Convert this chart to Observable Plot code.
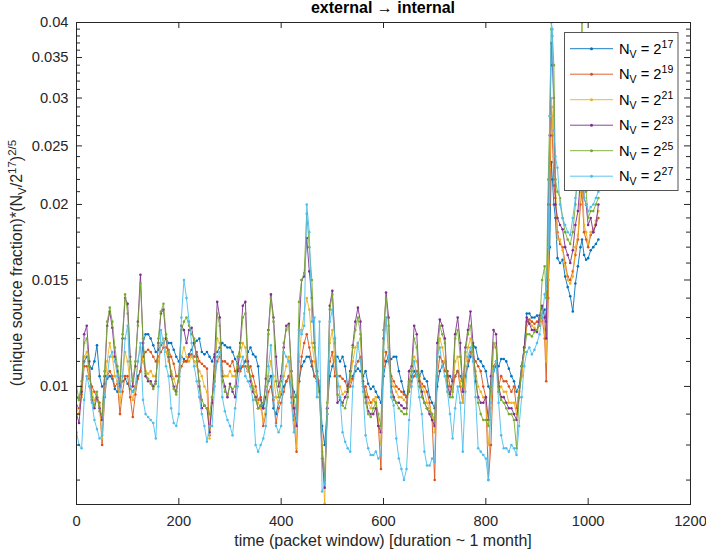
<!DOCTYPE html>
<html><head><meta charset="utf-8">
<script src="https://cdn.jsdelivr.net/npm/d3@7"></script>
<script src="https://cdn.jsdelivr.net/npm/@observablehq/plot@0.6"></script>
<style>html,body{margin:0;padding:0;background:#fff}svg{display:block}</style>
</head><body><div id="chart"></div>
<script>
// packet window index (x)
const time = [
0,5,10,15,20,25,30,35,40,45,50,55,60,65,70,75,80,85,90,95,
100,105,110,115,120,125,130,135,140,145,150,155,160,165,170,175,180,185,190,195,
200,205,210,215,220,225,230,235,240,245,250,255,260,265,270,275,280,285,290,295,
300,305,310,315,320,325,330,335,340,345,350,355,360,365,370,375,380,385,390,395,
400,405,410,415,420,425,430,435,440,445,450,455,460,465,470,475,480,485,490,495,
500,505,510,515,520,525,530,535,540,545,550,555,560,565,570,575,580,585,590,595,
600,605,610,615,620,625,630,635,640,645,650,655,660,665,670,675,680,685,690,695,
700,705,710,715,720,725,730,735,740,745,750,755,760,765,770,775,780,785,790,795,
800,805,810,815,820,825,830,835,840,845,850,855,860,865,870,875,880,885,890,895,
900,905,910,915,
918,922,925,928,930,933,936,940,945,950,955,960,965,970,975,980,985,988,992,996,1000,1005,1010,1015,1020];

// N_V = 2^17
const nv17 = [
0.0096,0.0095,0.0100,0.0110,0.0112,0.0108,0.0107,0.0110,0.0117,0.0104,0.0100,0.0101,0.0103,0.0104,0.0103,0.0099,0.0098,0.0100,0.0102,0.0103,
0.0101,0.0099,0.0098,0.0100,0.0104,0.0106,0.0118,0.0122,0.0122,0.0120,0.0117,0.0114,0.0115,0.0117,0.0118,0.0120,0.0118,0.0118,0.0115,0.0112,
0.0110,0.0112,0.0111,0.0110,0.0113,0.0115,0.0118,0.0119,0.0120,0.0114,0.0113,0.0114,0.0112,0.0110,0.0113,0.0114,0.0116,0.0118,0.0117,0.0116,
0.0116,0.0114,0.0111,0.0109,0.0107,0.0108,0.0110,0.0114,0.0116,0.0113,0.0112,0.0108,0.0095,0.0092,0.0096,0.0102,0.0104,0.0092,0.0090,0.0094,
0.0097,0.0100,0.0102,0.0104,0.0100,0.0098,0.0096,0.0102,0.0108,0.0110,0.0112,0.0112,0.0108,0.0104,0.0102,0.0100,0.0086,0.0080,0.0092,0.0104,
0.0108,0.0112,0.0112,0.0110,0.0112,0.0108,0.0100,0.0102,0.0104,0.0106,0.0107,0.0106,0.0104,0.0106,0.0101,0.0099,0.0100,0.0098,0.0096,0.0094,
0.0104,0.0110,0.0112,0.0111,0.0112,0.0112,0.0106,0.0102,0.0098,0.0096,0.0100,0.0104,0.0106,0.0104,0.0104,0.0106,0.0103,0.0102,0.0096,0.0094,
0.0092,0.0100,0.0106,0.0108,0.0110,0.0104,0.0104,0.0102,0.0104,0.0106,0.0104,0.0102,0.0104,0.0108,0.0112,0.0117,0.0116,0.0111,0.0110,0.0108,
0.0106,0.0100,0.0098,0.0106,0.0108,0.0108,0.0111,0.0111,0.0110,0.0107,0.0104,0.0102,0.0098,0.0100,0.0108,0.0116,0.0132,0.0132,0.0130,0.0130,
0.0131,0.0129,0.0132,0.0134,
0.0128,0.0150,0.0170,0.0235,0.0220,0.0200,0.0190,0.0163,0.0160,0.0162,0.0152,0.0146,0.0141,0.0133,0.0148,0.0158,0.0170,0.0175,0.0165,0.0162,0.0163,0.0168,0.0170,0.0172,0.0175];

// N_V = 2^19
const nv19 = [
0.0093,0.0092,0.0097,0.0108,0.0108,0.0103,0.0100,0.0098,0.0096,0.0094,0.0080,0.0096,0.0104,0.0106,0.0104,0.0100,0.0101,0.0090,0.0098,0.0104,
0.0104,0.0096,0.0089,0.0097,0.0103,0.0106,0.0112,0.0114,0.0115,0.0114,0.0112,0.0110,0.0112,0.0114,0.0116,0.0116,0.0115,0.0112,0.0109,0.0104,
0.0104,0.0108,0.0110,0.0110,0.0112,0.0113,0.0112,0.0114,0.0110,0.0109,0.0108,0.0107,0.0083,0.0095,0.0104,0.0110,0.0112,0.0110,0.0110,0.0109,
0.0108,0.0110,0.0106,0.0107,0.0106,0.0108,0.0108,0.0106,0.0108,0.0104,0.0100,0.0095,0.0096,0.0086,0.0090,0.0098,0.0100,0.0095,0.0087,0.0092,
0.0094,0.0098,0.0102,0.0104,0.0096,0.0088,0.0078,0.0102,0.0112,0.0118,0.0122,0.0116,0.0110,0.0104,0.0104,0.0102,0.0080,0.0070,0.0090,0.0110,
0.0114,0.0104,0.0104,0.0104,0.0103,0.0102,0.0099,0.0100,0.0103,0.0108,0.0110,0.0112,0.0100,0.0100,0.0096,0.0094,0.0095,0.0094,0.0086,0.0073,
0.0108,0.0114,0.0110,0.0104,0.0102,0.0100,0.0099,0.0098,0.0097,0.0096,0.0098,0.0102,0.0104,0.0106,0.0102,0.0101,0.0100,0.0098,0.0094,0.0088,
0.0070,0.0104,0.0112,0.0110,0.0106,0.0106,0.0100,0.0098,0.0104,0.0106,0.0100,0.0094,0.0104,0.0110,0.0114,0.0112,0.0110,0.0108,0.0106,0.0100,
0.0096,0.0070,0.0080,0.0108,0.0110,0.0100,0.0104,0.0102,0.0102,0.0100,0.0098,0.0100,0.0092,0.0098,0.0104,0.0114,0.0128,0.0129,0.0128,0.0127,
0.0128,0.0128,0.0130,0.0120,
0.0102,0.0140,0.0200,0.0290,0.0260,0.0215,0.0205,0.0180,0.0172,0.0170,0.0160,0.0152,0.0150,0.0155,0.0165,0.0175,0.0200,0.0210,0.0180,0.0175,0.0170,0.0178,0.0180,0.0185,0.0190];

// N_V = 2^21
const nv21 = [
0.0092,0.0090,0.0096,0.0112,0.0114,0.0104,0.0098,0.0095,0.0096,0.0093,0.0082,0.0099,0.0110,0.0118,0.0112,0.0104,0.0102,0.0094,0.0104,0.0114,
0.0110,0.0100,0.0095,0.0100,0.0110,0.0116,0.0110,0.0106,0.0105,0.0106,0.0104,0.0104,0.0110,0.0118,0.0120,0.0114,0.0110,0.0106,0.0103,0.0100,
0.0102,0.0112,0.0116,0.0112,0.0110,0.0112,0.0110,0.0108,0.0106,0.0104,0.0100,0.0098,0.0082,0.0096,0.0108,0.0120,0.0118,0.0106,0.0104,0.0104,
0.0106,0.0104,0.0104,0.0108,0.0112,0.0118,0.0116,0.0106,0.0104,0.0100,0.0098,0.0094,0.0092,0.0088,0.0092,0.0104,0.0110,0.0104,0.0096,0.0094,
0.0098,0.0104,0.0108,0.0112,0.0100,0.0092,0.0079,0.0110,0.0124,0.0132,0.0140,0.0134,0.0118,0.0110,0.0104,0.0102,0.0080,0.0064,0.0090,0.0118,
0.0124,0.0110,0.0100,0.0100,0.0097,0.0098,0.0098,0.0102,0.0110,0.0116,0.0118,0.0120,0.0100,0.0098,0.0094,0.0092,0.0095,0.0096,0.0088,0.0080,
0.0114,0.0130,0.0116,0.0102,0.0100,0.0098,0.0096,0.0096,0.0095,0.0094,0.0100,0.0106,0.0112,0.0110,0.0104,0.0100,0.0098,0.0094,0.0092,0.0090,
0.0084,0.0110,0.0120,0.0116,0.0110,0.0102,0.0098,0.0098,0.0110,0.0112,0.0102,0.0094,0.0108,0.0116,0.0120,0.0112,0.0106,0.0100,0.0098,0.0096,
0.0094,0.0080,0.0092,0.0116,0.0118,0.0098,0.0100,0.0098,0.0098,0.0094,0.0094,0.0094,0.0090,0.0098,0.0104,0.0114,0.0126,0.0128,0.0126,0.0125,
0.0124,0.0126,0.0134,0.0124,
0.0110,0.0150,0.0230,0.0300,0.0280,0.0240,0.0220,0.0175,0.0175,0.0168,0.0158,0.0150,0.0148,0.0152,0.0170,0.0178,0.0210,0.0230,0.0185,0.0180,0.0172,0.0180,0.0182,0.0188,0.0195];

// N_V = 2^23
const nv23 = [
0.0090,0.0087,0.0098,0.0122,0.0126,0.0110,0.0095,0.0092,0.0096,0.0092,0.0088,0.0104,0.0126,0.0133,0.0125,0.0112,0.0106,0.0100,0.0120,0.0140,
0.0137,0.0112,0.0100,0.0108,0.0128,0.0153,0.0118,0.0104,0.0102,0.0102,0.0100,0.0102,0.0118,0.0132,0.0134,0.0120,0.0112,0.0104,0.0100,0.0098,
0.0104,0.0126,0.0124,0.0118,0.0124,0.0125,0.0118,0.0112,0.0100,0.0092,0.0093,0.0092,0.0084,0.0094,0.0112,0.0138,0.0130,0.0104,0.0100,0.0096,
0.0101,0.0098,0.0096,0.0106,0.0118,0.0136,0.0138,0.0110,0.0102,0.0098,0.0096,0.0092,0.0093,0.0092,0.0103,0.0124,0.0142,0.0130,0.0112,0.0100,
0.0104,0.0116,0.0126,0.0127,0.0106,0.0092,0.0086,0.0124,0.0150,0.0152,0.0176,0.0155,0.0140,0.0118,0.0106,0.0098,0.0076,0.0068,0.0092,0.0136,
0.0144,0.0120,0.0094,0.0095,0.0094,0.0096,0.0098,0.0106,0.0117,0.0128,0.0135,0.0128,0.0102,0.0096,0.0091,0.0090,0.0090,0.0092,0.0086,0.0084,
0.0120,0.0143,0.0130,0.0100,0.0096,0.0094,0.0094,0.0093,0.0092,0.0092,0.0106,0.0108,0.0126,0.0122,0.0102,0.0098,0.0094,0.0092,0.0090,0.0088,
0.0086,0.0118,0.0129,0.0126,0.0120,0.0100,0.0097,0.0102,0.0122,0.0130,0.0118,0.0098,0.0116,0.0124,0.0133,0.0118,0.0102,0.0096,0.0094,0.0094,
0.0096,0.0088,0.0104,0.0124,0.0122,0.0100,0.0096,0.0096,0.0094,0.0092,0.0092,0.0090,0.0088,0.0096,0.0108,0.0116,0.0130,0.0127,0.0124,0.0124,
0.0123,0.0131,0.0136,0.0130,
0.0120,0.0200,0.0260,0.0370,0.0340,0.0300,0.0200,0.0190,0.0185,0.0182,0.0170,0.0165,0.0160,0.0168,0.0185,0.0195,0.0220,0.0250,0.0205,0.0200,0.0185,0.0190,0.0180,0.0185,0.0200];

// N_V = 2^25
const nv25 = [
0.0100,0.0095,0.0102,0.0118,0.0120,0.0108,0.0096,0.0093,0.0098,0.0091,0.0090,0.0106,0.0128,0.0135,0.0128,0.0116,0.0108,0.0102,0.0122,0.0142,
0.0132,0.0110,0.0102,0.0110,0.0126,0.0148,0.0120,0.0105,0.0103,0.0101,0.0099,0.0101,0.0120,0.0133,0.0137,0.0122,0.0113,0.0105,0.0099,0.0097,
0.0104,0.0124,0.0128,0.0130,0.0126,0.0122,0.0120,0.0110,0.0102,0.0095,0.0093,0.0092,0.0090,0.0096,0.0102,0.0132,0.0126,0.0102,0.0098,0.0097,
0.0100,0.0099,0.0100,0.0112,0.0116,0.0130,0.0132,0.0108,0.0104,0.0099,0.0095,0.0092,0.0093,0.0094,0.0100,0.0122,0.0140,0.0128,0.0102,0.0096,
0.0102,0.0118,0.0124,0.0126,0.0106,0.0096,0.0090,0.0138,0.0150,0.0154,0.0193,0.0170,0.0150,0.0116,0.0104,0.0096,0.0078,0.0070,0.0094,0.0134,
0.0142,0.0118,0.0097,0.0096,0.0093,0.0092,0.0096,0.0104,0.0116,0.0124,0.0130,0.0122,0.0101,0.0094,0.0090,0.0089,0.0092,0.0094,0.0090,0.0086,
0.0124,0.0140,0.0126,0.0098,0.0095,0.0094,0.0092,0.0091,0.0090,0.0090,0.0102,0.0106,0.0120,0.0116,0.0100,0.0096,0.0094,0.0092,0.0091,0.0090,
0.0088,0.0112,0.0126,0.0122,0.0118,0.0098,0.0096,0.0096,0.0120,0.0124,0.0112,0.0100,0.0114,0.0122,0.0126,0.0114,0.0104,0.0094,0.0090,0.0088,
0.0088,0.0086,0.0100,0.0118,0.0116,0.0098,0.0095,0.0094,0.0092,0.0090,0.0090,0.0088,0.0079,0.0096,0.0108,0.0114,0.0122,0.0122,0.0121,0.0123,
0.0124,0.0126,0.0150,0.0158,
0.0140,0.0220,0.0280,0.0390,0.0380,0.0340,0.0220,0.0210,0.0205,0.0190,0.0180,0.0175,0.0172,0.0180,0.0200,0.0230,0.0330,0.0400,0.0215,0.0210,0.0190,0.0195,0.0195,0.0200,0.0205];

// N_V = 2^27
const nv27 = [
0.0084,0.0080,0.0079,0.0095,0.0104,0.0100,0.0094,0.0088,0.0085,0.0082,0.0083,0.0097,0.0104,0.0112,0.0114,0.0110,0.0104,0.0098,0.0104,0.0120,
0.0126,0.0100,0.0098,0.0099,0.0110,0.0118,0.0095,0.0090,0.0089,0.0088,0.0087,0.0082,0.0100,0.0124,0.0118,0.0108,0.0104,0.0092,0.0087,0.0086,
0.0090,0.0130,0.0150,0.0140,0.0128,0.0118,0.0108,0.0102,0.0096,0.0090,0.0086,0.0081,0.0086,0.0086,0.0100,0.0112,0.0114,0.0096,0.0091,0.0088,
0.0086,0.0083,0.0092,0.0100,0.0108,0.0112,0.0104,0.0102,0.0100,0.0095,0.0080,0.0078,0.0080,0.0082,0.0086,0.0108,0.0117,0.0096,0.0086,0.0084,
0.0086,0.0114,0.0112,0.0110,0.0094,0.0084,0.0088,0.0124,0.0122,0.0126,0.0200,0.0180,0.0128,0.0130,0.0096,0.0128,0.0067,0.0069,0.0090,0.0128,
0.0134,0.0120,0.0104,0.0096,0.0084,0.0081,0.0079,0.0078,0.0100,0.0108,0.0118,0.0110,0.0098,0.0083,0.0079,0.0077,0.0077,0.0078,0.0076,0.0077,
0.0115,0.0130,0.0112,0.0096,0.0093,0.0082,0.0076,0.0073,0.0070,0.0073,0.0088,0.0100,0.0110,0.0104,0.0096,0.0090,0.0078,0.0074,0.0074,0.0076,
0.0075,0.0112,0.0116,0.0108,0.0104,0.0098,0.0090,0.0082,0.0092,0.0100,0.0094,0.0078,0.0098,0.0112,0.0116,0.0110,0.0096,0.0079,0.0078,0.0077,
0.0076,0.0070,0.0094,0.0106,0.0110,0.0094,0.0083,0.0079,0.0079,0.0078,0.0080,0.0079,0.0077,0.0086,0.0096,0.0108,0.0114,0.0116,0.0113,0.0115,
0.0118,0.0122,0.0130,0.0142,
0.0145,0.0170,0.0280,0.0400,0.0390,0.0265,0.0240,0.0230,0.0200,0.0190,0.0185,0.0180,0.0178,0.0190,0.0205,0.0220,0.0330,0.0350,0.0205,0.0200,0.0195,0.0198,0.0200,0.0205,0.0210];

const exponents = ["17","19","21","23","25","27"];
const colors = ["#0072BD","#D95319","#EDB120","#7E2F8E","#77AC30","#4DBEEE"];
const xTicks = [0,200,400,600,800,1000,1200];
const yTicks = [0.01,0.015,0.02,0.025,0.03,0.035,0.04];
const yMinor = [0.007,0.008,0.009,0.011,0.012,0.013,0.014,0.016,0.017,0.018,0.019,0.021,0.022,0.023,0.024,0.026,0.027,0.028,0.029,0.031,0.032,0.033,0.034,0.036,0.037,0.038,0.039];

const W = 706, H = 552, mL = 76, mR = 16, mT = 22, mB = 48;
const fw = W - mL - mR, fh = H - mT - mB;
const ink = "#262626";
const FONT = "'Liberation Sans', Arial, Helvetica, sans-serif";

const seriesList = [nv17, nv19, nv21, nv23, nv25, nv27];
const marks = [];
seriesList.forEach((vals, i) => {
  const data = time.map((t, j) => ({t, v: vals[j]}));
  marks.push(Plot.line(data, {x: "t", y: "v", stroke: colors[i], strokeWidth: 0.9, clip: true}));
  marks.push(Plot.dot(data, {x: "t", y: "v", fill: colors[i], r: 1.3, clip: true}));
});

const chart = Plot.plot({
  width: W, height: H,
  marginLeft: mL, marginRight: mR, marginTop: mT, marginBottom: mB,
  style: {fontFamily: FONT, fontSize: "14.7px", color: ink, background: "#fff", overflow: "visible"},
  x: {domain: [0, 1200]},
  y: {type: "log", domain: [0.006378, 0.04]},
  marks: [
    ...marks,
    Plot.frame({stroke: ink, strokeWidth: 1}),
    Plot.tickX(xTicks, {x: d => d, stroke: ink, insetTop: fh - 6}),
    Plot.tickX(xTicks, {x: d => d, stroke: ink, insetBottom: fh - 6}),
    Plot.tickY(yTicks, {y: d => d, stroke: ink, insetRight: fw - 6}),
    Plot.tickY(yTicks, {y: d => d, stroke: ink, insetLeft: fw - 6}),
    Plot.tickY(yMinor, {y: d => d, stroke: ink, insetRight: fw - 4}),
    Plot.tickY(yMinor, {y: d => d, stroke: ink, insetLeft: fw - 4}),
    Plot.axisX(xTicks, {anchor: "bottom", tickSize: 0, tickPadding: 11, tickFormat: d => String(d), label: null, fill: ink}),
    Plot.axisY(yTicks, {anchor: "left", tickSize: 0, tickPadding: 8, tickFormat: d => String(d), label: null, fill: ink})
  ]
});
document.getElementById("chart").appendChild(chart);

const svg = d3.select(chart);
const cx = mL + fw / 2;
// title
svg.append("text").attr("x", cx).attr("y", 12.5).attr("text-anchor", "middle")
  .attr("font-family", FONT).attr("font-size", 16).attr("font-weight", "bold").attr("fill", "#000")
  .text("external \u2192 internal");
// x label
svg.append("text").attr("x", cx).attr("y", 545.5).attr("text-anchor", "middle")
  .attr("font-family", FONT).attr("font-size", 16).attr("fill", ink)
  .text("time (packet window) [duration ~ 1 month]");
// y label
const yl = svg.append("text").attr("transform", `translate(21.5,${mT + fh / 2}) rotate(-90)`)
  .attr("text-anchor", "middle").attr("font-family", FONT).attr("font-size", 16).attr("fill", ink);
yl.append("tspan").text("(unique source fraction)*(N");
yl.append("tspan").attr("font-size", 11.5).attr("dy", 4).text("V");
yl.append("tspan").attr("dy", -4).text("/2");
yl.append("tspan").attr("font-size", 11.5).attr("dy", -6).text("17");
yl.append("tspan").attr("dy", 6).text(")");
yl.append("tspan").attr("font-size", 11.5).attr("dy", -6).text("2/5");

// legend
const lx = mL + fw - 12 - 113.5, ly = mT + 10.5;
const lg = svg.append("g").attr("text-anchor", "start");
lg.append("rect").attr("x", lx).attr("y", ly).attr("width", 113.5).attr("height", 158)
  .attr("fill", "#fff").attr("stroke", "#555").attr("stroke-width", 1);
exponents.forEach((e, i) => {
  const yy = ly + 16.2 + i * 25.5;
  lg.append("line").attr("x1", lx + 5.5).attr("x2", lx + 48.5).attr("y1", yy).attr("y2", yy)
    .attr("stroke", colors[i]).attr("stroke-width", 0.9);
  lg.append("circle").attr("cx", lx + 27).attr("cy", yy).attr("r", 1.5).attr("fill", colors[i]);
  const t = lg.append("text").attr("x", lx + 54.5).attr("y", yy + 5).attr("text-anchor", "start")
    .attr("font-family", FONT).attr("font-size", 14.7).attr("fill", "#000");
  t.append("tspan").text("N");
  t.append("tspan").attr("font-size", 10.5).attr("dy", 4).text("V");
  t.append("tspan").attr("dy", -4).text(" = 2");
  t.append("tspan").attr("font-size", 10.5).attr("dy", -6).text(e);
});
</script>
</body></html>
